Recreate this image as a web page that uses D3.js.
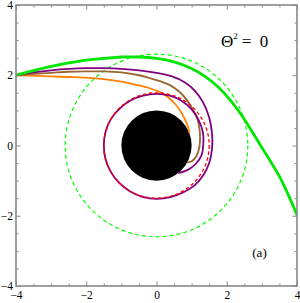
<!DOCTYPE html>
<html><head><meta charset="utf-8">
<script src="https://cdn.jsdelivr.net/npm/d3@7/dist/d3.min.js"></script>
<style>html,body{margin:0;padding:0;background:#fff;} svg{display:block}</style>
</head><body>
<svg id="c" width="300" height="303"></svg>
<script>
// ---- data ----
const majorTicks = [-4, -2, 0, 2, 4];
const minorTicks = [-3.5, -3, -2.5, -1.5, -1, -0.5, 0.5, 1, 1.5, 2.5, 3, 3.5];
const tickLabels = ["\u22124", "\u22122", "0", "2", "4"];

const horizonRadius = 1.0;
const photonSphereRadius = 1.5;
const criticalRadius = 2.6;

const greenPath = [
  [-4, 2.0], [-3.5, 2.13], [-3.0, 2.25], [-2.5, 2.35], [-2.0, 2.43], [-1.5, 2.48],
  [-1.0, 2.52], [-0.5, 2.52], [0, 2.48], [0.5, 2.38], [0.98, 2.2], [1.38, 1.97],
  [1.74, 1.68], [2.07, 1.33], [2.37, 0.94], [2.67, 0.48], [2.95, 0.02],
  [3.2, -0.38], [3.5, -0.88], [3.75, -1.4], [4.0, -1.98]
];
const purplePath = [
  [-4, 2.0], [-3.5, 2.08], [-3.0, 2.14], [-2.5, 2.18], [-2.0, 2.2], [-1.5, 2.2],
  [-1.0, 2.18], [-0.5, 2.14], [0, 2.07], [0.4, 1.98], [0.8, 1.8], [1.1, 1.55],
  [1.33, 1.22], [1.5, 0.8], [1.58, 0.35], [1.58, -0.1], [1.5, -0.5], [1.33, -0.85],
  [1.1, -1.12], [0.77, -1.33], [0.4, -1.47], [0, -1.52], [-0.4, -1.46], [-0.76, -1.3],
  [-1.07, -1.06], [-1.3, -0.75], [-1.45, -0.39], [-1.5, 0], [-1.45, 0.39], [-1.3, 0.75],
  [-1.05, 1.05], [-0.74, 1.28], [-0.38, 1.42], [0, 1.47], [0.38, 1.42], [0.72, 1.27],
  [1.0, 1.03], [1.2, 0.72], [1.32, 0.38], [1.33, 0.0], [1.28, -0.28], [1.12, -0.52],
  [0.92, -0.68], [0.64, -0.78]
];
const brownPath = [
  [-4, 2.0], [-3.5, 2.04], [-3.0, 2.07], [-2.5, 2.1], [-2.0, 2.11], [-1.5, 2.11],
  [-1.0, 2.08], [-0.5, 2.0], [-0.19, 1.92], [0.1, 1.83], [0.38, 1.72], [0.65, 1.53],
  [0.86, 1.3], [1.02, 1.05], [1.15, 0.8], [1.22, 0.5], [1.24, 0.2], [1.22, -0.05],
  [1.14, -0.3], [1.0, -0.45], [0.88, -0.48]
];
const orangePath = [
  [-4, 2.0], [-3.5, 1.99], [-3.0, 1.97], [-2.5, 1.95], [-2.0, 1.93], [-1.5, 1.89],
  [-1.0, 1.82], [-0.5, 1.71], [-0.19, 1.63], [0.1, 1.52], [0.35, 1.36], [0.55, 1.16],
  [0.7, 0.95], [0.82, 0.72], [0.9, 0.52], [0.93, 0.38]
];
const thetaLabel = "\u0398";
const thetaPower = "2";
const thetaValue = "=  0";
const panelLabel = "(a)";

// ---- drawing ----
const svg = d3.select("#c");
const x = d3.scaleLinear().domain([-4, 4]).range([16, 297]);
const y = d3.scaleLinear().domain([-4, 4]).range([286, 5]);

svg.append("defs").append("clipPath").attr("id", "clip")
  .append("rect").attr("x", x(-4)).attr("y", y(4))
  .attr("width", x(4) - x(-4)).attr("height", y(-4) - y(4));

const plot = svg.append("g").attr("clip-path", "url(#clip)");

const line = d3.line().x(d => x(d[0])).y(d => y(d[1])).curve(d3.curveCatmullRom.alpha(0.5));

// dashed green circle
plot.append("circle").attr("cx", x(0)).attr("cy", y(0))
  .attr("r", x(criticalRadius) - x(0))
  .attr("fill", "none").attr("stroke", "#00ff00").attr("stroke-width", 1.2)
  .attr("stroke-dasharray", "4,3");

// black hole
plot.append("circle").attr("cx", x(0)).attr("cy", y(0))
  .attr("r", x(horizonRadius) - x(0)).attr("fill", "#000");

const series = [
  {data: orangePath, color: "#ff8000", w: 1.8},
  {data: brownPath, color: "#996633", w: 1.8},
  {data: purplePath, color: "#800080", w: 1.8},
  {data: greenPath, color: "#00e600", w: 2.8}
];
series.forEach(s => {
  plot.append("path").attr("d", line(s.data)).attr("fill", "none")
    .attr("stroke", s.color).attr("stroke-width", s.w)
    .attr("stroke-linejoin", "round").attr("stroke-linecap", "round");
});

// photon sphere dashed red
plot.append("circle").attr("cx", x(0)).attr("cy", y(0))
  .attr("r", x(photonSphereRadius) - x(0))
  .attr("fill", "none").attr("stroke", "#ff0000").attr("stroke-width", 1.3)
  .attr("stroke-dasharray", "3.5,2.5");

// ---- frame & ticks ----
const frameColor = "#888888";
function styleAxis(g) {
  g.select(".domain").remove();
  g.selectAll("line").attr("stroke", frameColor).attr("stroke-width", 1);
  g.selectAll("text").attr("font-family", "'Liberation Serif', 'Times New Roman', serif")
    .attr("font-size", 11.5).attr("fill", "#000");
}
function addAxis(axisFn, scale, transform, labels) {
  const gMaj = svg.append("g").attr("transform", transform)
    .call(axisFn(scale).tickValues(majorTicks).tickSizeInner(-4.5).tickSizeOuter(0)
      .tickPadding(labels ? 4 : 0).tickFormat((d, i) => labels ? tickLabels[i] : ""));
  styleAxis(gMaj);
  const gMin = svg.append("g").attr("transform", transform)
    .call(axisFn(scale).tickValues(minorTicks).tickSizeInner(-2.5).tickSizeOuter(0)
      .tickFormat(""));
  styleAxis(gMin);
  return gMaj;
}
const gB = addAxis(d3.axisBottom, x, `translate(0,${y(-4)})`, true);
gB.selectAll("text").attr("dy", "0.71em").attr("y", 5);
const gL = addAxis(d3.axisLeft, y, `translate(${x(-4)},0)`, true);
gL.selectAll("text").attr("x", -3);
addAxis(d3.axisTop, x, `translate(0,${y(4)})`, false);
addAxis(d3.axisRight, y, `translate(${x(4)},0)`, false);

svg.append("rect").attr("x", x(-4)).attr("y", y(4))
  .attr("width", x(4) - x(-4)).attr("height", y(-4) - y(4))
  .attr("fill", "none").attr("stroke", frameColor).attr("stroke-width", 1.6);

// ---- annotations ----
const t = svg.append("text").attr("x", 221).attr("y", 47)
  .attr("font-family", "'Liberation Serif', 'Times New Roman', serif")
  .attr("font-size", 17).attr("fill", "#000");
t.append("tspan").text(thetaLabel);
t.append("tspan").attr("font-size", 9).attr("dy", -8).text(thetaPower);
t.append("tspan").attr("dy", 8).attr("dx", 4).style("white-space", "pre").text(thetaValue);

svg.append("text").attr("x", 259.5).attr("y", 256.5).attr("text-anchor", "middle")
  .attr("font-family", "'Liberation Serif', 'Times New Roman', serif")
  .attr("font-size", 13).attr("fill", "#000").text(panelLabel);
</script>
</body></html>
